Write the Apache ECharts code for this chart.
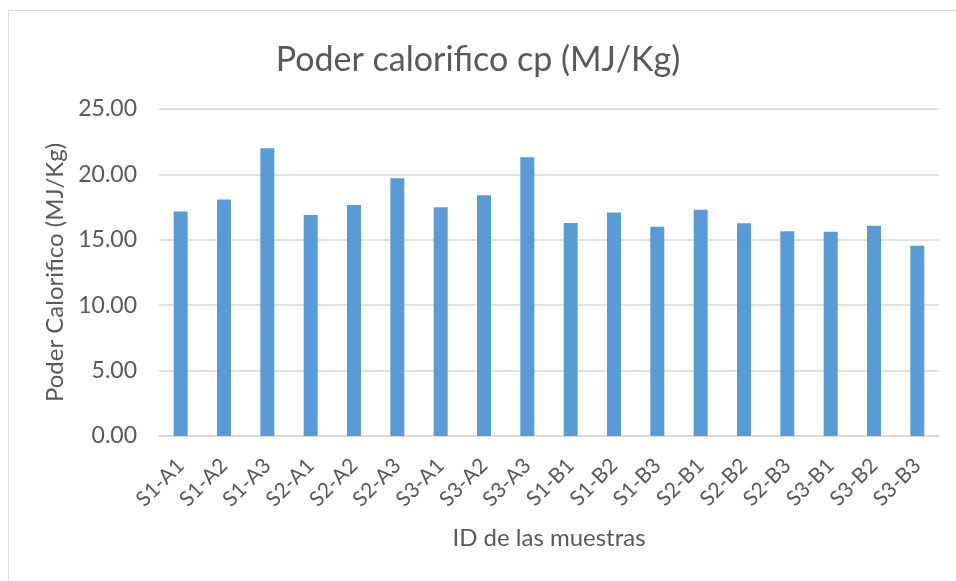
<!DOCTYPE html>
<html>
<head>
<meta charset="utf-8">
<script src="https://cdn.jsdelivr.net/npm/echarts@6/dist/echarts.min.js"></script>
<style>
  html, body { margin: 0; padding: 0; background: #fff; }
  #chart { width: 956px; height: 581px; }
</style>
</head>
<body>
<div id="chart"></div>
<script>
// muestras y valores
const muestras = ['S1-A1', 'S1-A2', 'S1-A3', 'S2-A1', 'S2-A2', 'S2-A3', 'S3-A1', 'S3-A2', 'S3-A3',
                  'S1-B1', 'S1-B2', 'S1-B3', 'S2-B1', 'S2-B2', 'S2-B3', 'S3-B1', 'S3-B2', 'S3-B3'];
const poderCalorifico = [17.16, 18.08, 22.00, 16.90, 17.67, 19.71, 17.49, 18.41, 21.31,
                         16.29, 17.08, 15.99, 17.29, 16.27, 15.66, 15.61, 16.07, 14.54];
const yTicks = [0, 5, 10, 15, 20, 25];

const chart = echarts.init(document.getElementById('chart'));
const fuente = 'Lato';
const gris = '#595959';

const option = {
  animation: false,
  graphic: [{
    type: 'rect',
    shape: { x: 8.5, y: 10.5, width: 960, height: 600 },
    style: { fill: 'none', stroke: '#d9d9d9', lineWidth: 1 },
    silent: true
  }],
  title: {
    text: 'Poder calorifico cp (MJ/Kg)',
    left: 'center',
    top: 38,
    textStyle: { color: gris, fontFamily: fuente, fontSize: 34, fontWeight: 'normal' }
  },
  grid: { left: 159, right: 17, top: 109, bottom: 145 },
  xAxis: {
    type: 'category',
    data: muestras,
    name: 'ID de las muestras',
    nameLocation: 'middle',
    nameGap: 90,
    nameTextStyle: { color: gris, fontFamily: fuente, fontSize: 24 },
    axisLine: { lineStyle: { color: '#d9d9d9', width: 1.5 } },
    axisTick: { show: false },
    axisLabel: { rotate: 45, margin: 26, color: gris, fontFamily: fuente, fontSize: 21, interval: 0 }
  },
  yAxis: {
    type: 'value',
    min: yTicks[0],
    max: yTicks[yTicks.length - 1],
    interval: 5,
    name: 'Poder Calorifico (MJ/Kg)',
    nameLocation: 'middle',
    nameGap: 76,
    nameTextStyle: { color: gris, fontFamily: fuente, fontSize: 24 },
    axisLine: { show: false },
    axisTick: { show: false },
    axisLabel: {
      margin: 22, color: gris, fontFamily: fuente, fontSize: 23,
      formatter: v => v.toFixed(2)
    },
    splitLine: { lineStyle: { color: '#d9d9d9', width: 1.5 } }
  },
  series: [{
    name: 'Poder calorifico',
    type: 'bar',
    barWidth: 14,
    itemStyle: { color: '#5b9bd5' },
    data: poderCalorifico
  }]
};

chart.setOption(option);
</script>
</body>
</html>
